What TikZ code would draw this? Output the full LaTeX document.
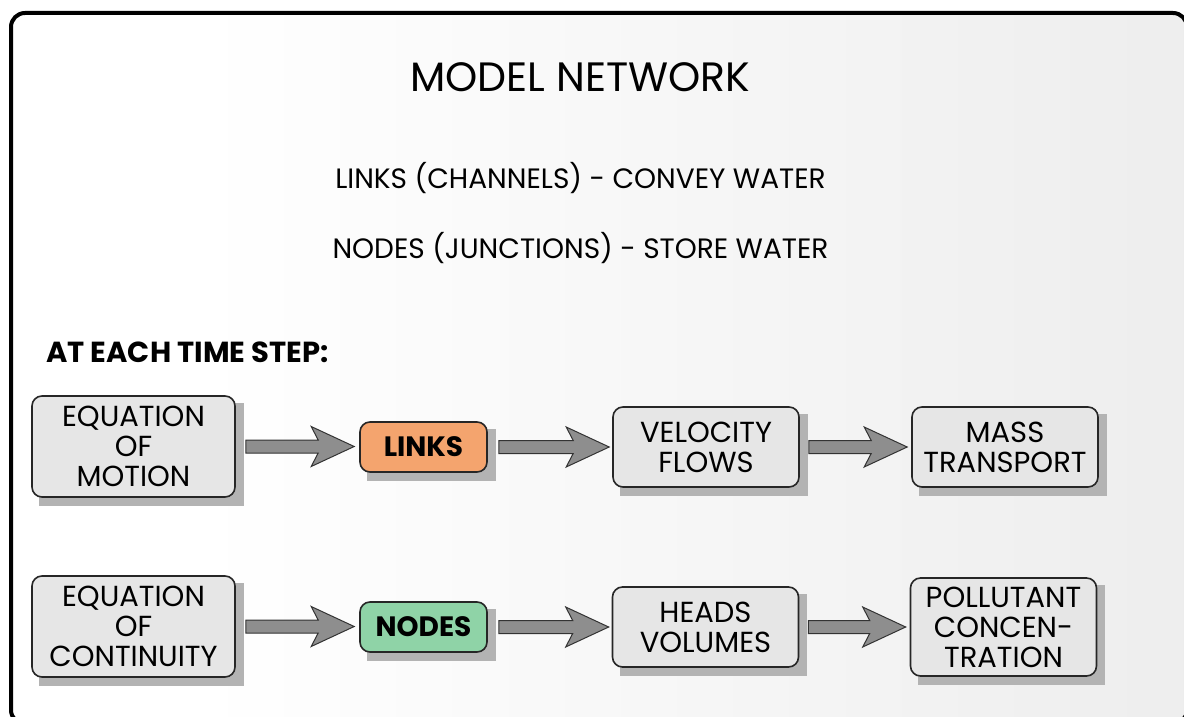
\documentclass[tikz,border=0pt]{standalone}
\usepackage{fontspec}
\setmainfont{Poppins}
\usetikzlibrary{calc}
\pgfdeclarelayer{bglayer}
\pgfdeclarelayer{shadowlayer}
\pgfsetlayers{bglayer,shadowlayer,main}
\definecolor{boxgray}{HTML}{E6E6E6}
\definecolor{shadowc}{HTML}{B3B3B3}
\definecolor{arrowgray}{HTML}{8E8E8E}
\definecolor{linkorange}{HTML}{F4A46E}
\definecolor{nodegreen}{HTML}{8FD3A7}
\pgfdeclarehorizontalshading{bgshade}{100bp}{color(0bp)=(white); color(33bp)=(white); color(100bp)=(black!11)}
\tikzset{
  box/.style={draw=black!85, line width=1.6pt, fill=boxgray, rounded corners=10pt,
    align=center, inner sep=0pt, font={\fontsize{29}{30}\selectfont}},
  bigbox/.style={box, minimum width=203pt, minimum height=101pt},
  midbox/.style={box, minimum width=186pt, minimum height=80pt},
  keybox/.style={box, minimum width=127pt, minimum height=50pt, font={\fontsize{28}{30}\selectfont\bfseries}},
  blockarrow/.style={fill=arrowgray, draw=black!80, line width=1pt, line join=miter,
    to path={let \p1=(\tikztostart), \p2=(\tikztotarget) in
      (\x1,\y1+6.5pt) -- (\x2-36pt,\y1+6.5pt) -- (\x2-43pt,\y1+20pt) -- (\x2,\y1)
      -- (\x2-43pt,\y1-20pt) -- (\x2-36pt,\y1-6.5pt) -- (\x1,\y1-6.5pt) -- cycle}},
  headline/.style={font={\fontsize{41}{44}\selectfont}},
  subline/.style={font={\fontsize{28}{32}\selectfont}},
  steptitle/.style={font={\fontsize{29}{32}\selectfont\bfseries}}
}
\begin{document}
\begin{tikzpicture}[x=1pt,y=-1pt]
\useasboundingbox (0,0) rectangle (1184,717);
\clip (0,0) rectangle (1184,717);
\begin{pgfonlayer}{bglayer}
\fill[white] (0,0) rectangle (1184,717);
\shade[shading=bgshade, rounded corners=14pt] (11,13) rectangle (1187,724);
\draw[line width=4pt, rounded corners=14pt] (11,13) rectangle (1187,724);
\end{pgfonlayer}

\node[headline, anchor=base] (title) at (580,92) {MODEL NETWORK};
\node[subline, anchor=base] (sub1) at (580.5,188) {LINKS (CHANNELS) - CONVEY WATER};
\node[subline, anchor=base] (sub2) at (580.5,258) {NODES (JUNCTIONS) - STORE WATER};
\node[steptitle, anchor=base west, inner sep=0pt] (steps) at (46,362) {AT EACH TIME STEP:};

\node[bigbox] (m1) at (133.5,446.5) {EQUATION\\OF\\MOTION};
\node[keybox, fill=linkorange] (l1) at (423.5,447) {LINKS};
\node[midbox] (v1) at (706,447) {VELOCITY\\FLOWS};
\node[midbox] (t1) at (1005,447) {MASS\\TRANSPORT};

\node[bigbox] (m2) at (133.5,626.5) {EQUATION\\OF\\CONTINUITY};
\node[keybox, fill=nodegreen] (n2) at (423.5,627) {NODES};
\node[midbox] (h2) at (705.5,627) {HEADS\\VOLUMES};
\node[midbox, minimum height=98pt] (p2) at (1003.5,627) {POLLUTANT\\CONCEN-\\TRATION};

\begin{pgfonlayer}{shadowlayer}
\foreach \n in {m1,l1,v1,t1,m2,n2,h2,p2}
  \fill[shadowc] ($(\n.south west)+(8,8)$) rectangle ($(\n.north east)+(8,8)$);
\end{pgfonlayer}

\draw[blockarrow] ([xshift=10pt]m1.east) to ([xshift=-5pt]l1.west);
\draw[blockarrow] ([xshift=11pt]l1.east) to ([xshift=-3pt]v1.west);
\draw[blockarrow] ([xshift=9pt]v1.east) to ([xshift=-4pt]t1.west);
\draw[blockarrow] ([xshift=10pt]m2.east) to ([xshift=-5pt]n2.west);
\draw[blockarrow] ([xshift=11pt]n2.east) to ([xshift=-3pt]h2.west);
\draw[blockarrow] ([xshift=9pt]h2.east) to ([xshift=-4pt]p2.west);
\end{tikzpicture}
\end{document}
